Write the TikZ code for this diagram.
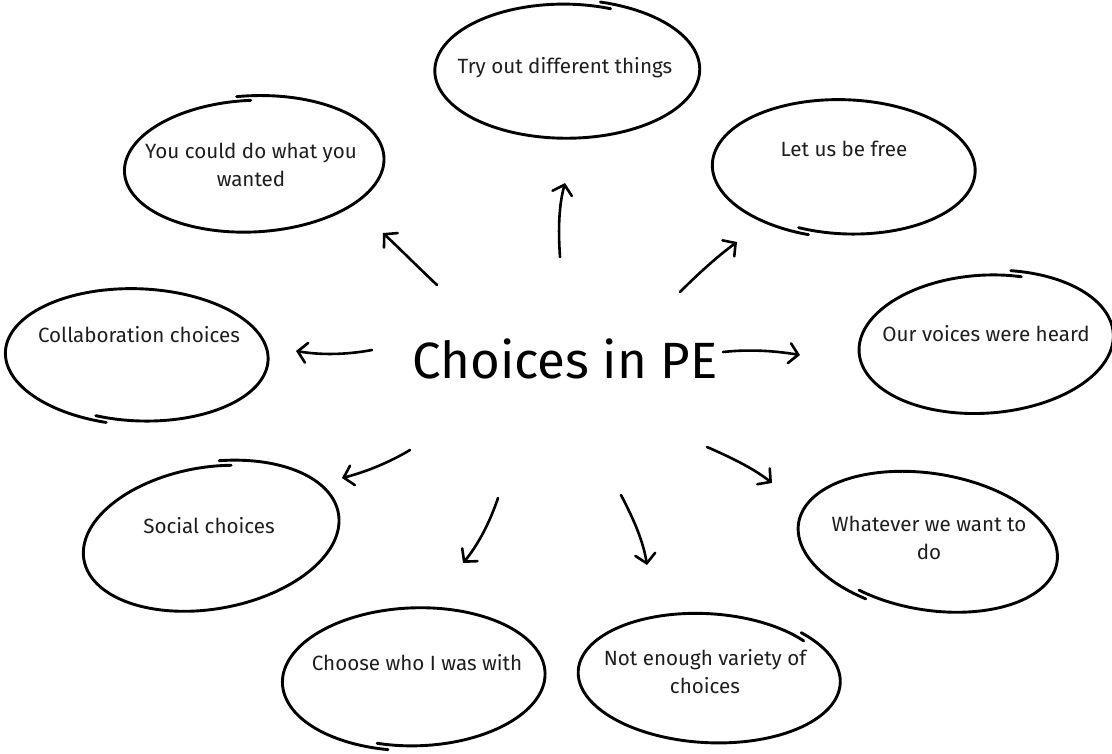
\documentclass[tikz,border=0pt]{standalone}
\usepackage{fontspec}
\setmainfont{Fira Sans}
\usetikzlibrary{arrows.meta,calc}
\definecolor{ink}{HTML}{1E1E1E}
\newcommand{\bubble}[7]{% cx cy rx ry start d rot
  \draw[sk] plot[smooth, samples=90, domain=#5:#5+366, variable=\t]
  ({#1 + (#3*(1+#6*(1-2*(\t-(#5))/366))*cos(\t))*cos(#7) - (#4*(1+#6*(1-2*(\t-(#5))/366))*sin(\t))*sin(#7)},
   {#2 + (#3*(1+#6*(1-2*(\t-(#5))/366))*cos(\t))*sin(#7) + (#4*(1+#6*(1-2*(\t-(#5))/366))*sin(\t))*cos(#7)});}
\begin{document}
\begin{tikzpicture}[x=1pt,y=-1pt,
  sk/.style={draw=black,line width=2.9pt,line cap=round,line join=round},
  arr/.style={draw=black,line width=2.6pt,line cap=round,
    -{Straight Barb[length=9pt,width=20pt,line cap=round]}},
  lbl/.style={inner sep=0pt,anchor=base,text=ink,align=center,
    font=\fontsize{20.6}{27.5}\selectfont},
  title/.style={inner sep=0pt,anchor=base,text=black,font=\fontsize{51}{54}\selectfont}]
\useasboundingbox (0,0) rectangle (1112,753);
\fill[white] (0,0) rectangle (1112,753);

% centre
\node[title] (main) at (565,378) {Choices in PE};

% bubbles
\node[lbl] (b1) at (565,73) {Try out different things};
\bubble{565}{70}{132}{68}{-75}{0.035}{0}
\node[lbl] (b2) at (251,186) {You could do what you\\wanted};
\bubble{252}{165}{130}{67}{-95}{0.035}{-3}
\node[lbl] (b3) at (844,156) {Let us be free};
\bubble{846}{168}{131}{68}{105}{0.035}{2}
\node[lbl] (b4) at (139,342) {Collaboration choices};
\bubble{139}{356}{131}{67}{103}{0.035}{2}
\node[lbl] (b5) at (986,341) {Our voices were heard};
\bubble{984}{343}{127}{70}{-76}{0.035}{-4}
\node[lbl] (b6) at (929,559) {Whatever we want to\\do};
\bubble{930}{543}{130}{69}{114}{0.035}{9}
\node[lbl] (b7) at (705,693) {Not enough variety of\\choices};
\bubble{707}{677}{130}{65}{-47}{0.035}{3}
\node[lbl] (b8) at (417,670) {Choose who I was with};
\bubble{416}{678}{131}{70}{103}{0.035}{-2}
\node[lbl] (b9) at (209,533) {Social choices};
\bubble{209}{537}{129}{72}{-80}{0.035}{-10}

% arrow end points
\coordinate (tA) at (437,285); \coordinate (hA) at (383,233);
\coordinate (tB) at (560,257); \coordinate (hB) at (565,183);
\coordinate (tC) at (680,292); \coordinate (hC) at (737,242);
\coordinate (tD) at (372,350); \coordinate (hD) at (296,351);
\coordinate (tE) at (723,352); \coordinate (hE) at (800,355);
\coordinate (tF) at (410,450); \coordinate (hF) at (342,478);
\coordinate (tG) at (498,498); \coordinate (hG) at (463,563);
\coordinate (tH) at (621,495); \coordinate (hH) at (647,565);
\coordinate (tI) at (707,447); \coordinate (hI) at (772,483);

\draw[arr] (tA) .. controls (418,267) and (400,249) .. (hA);
\draw[arr] (tB) .. controls (558,228) and (559,205) .. (hB);
\draw[arr] (tC) .. controls (700,272) and (718,256) .. (hC);
\draw[arr] (tD) .. controls (345,355) and (320,355) .. (hD);
\draw[arr] (tE) .. controls (750,349) and (776,351) .. (hE);
\draw[arr] (tF) .. controls (390,462) and (366,472) .. (hF);
\draw[arr] (tG) .. controls (490,522) and (478,545) .. (hG);
\draw[arr] (tH) .. controls (633,518) and (643,540) .. (hH);
\draw[arr] (tI) .. controls (730,457) and (753,468) .. (hI);
\end{tikzpicture}
\end{document}
